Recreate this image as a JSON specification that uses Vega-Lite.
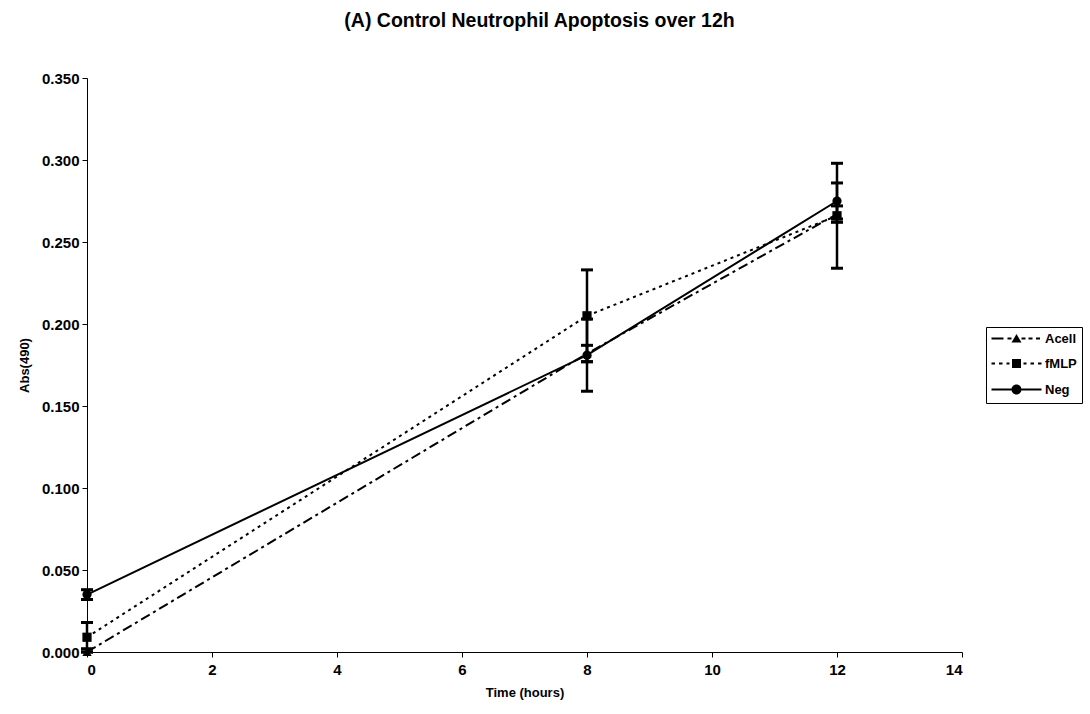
{
  "$schema": "https://vega.github.io/schema/vega-lite/v6.json",
  "width": 875,
  "height": 574,
  "autosize": {"type": "none"},
  "padding": {"left": 87, "top": 78, "right": 128, "bottom": 62},
  "background": "white",
  "title": {
    "text": "(A) Control Neutrophil Apoptosis over 12h",
    "font": "Liberation Sans",
    "fontSize": 19.5,
    "fontWeight": "bold",
    "color": "black",
    "anchor": "middle",
    "dx": 15,
    "offset": 40
  },
  "config": {
    "view": {"stroke": null},
    "font": "Liberation Sans",
    "axis": {
      "domainColor": "black",
      "tickColor": "black",
      "labelColor": "black",
      "titleColor": "black",
      "labelFont": "Liberation Sans",
      "titleFont": "Liberation Sans",
      "labelFontSize": 15,
      "labelFontWeight": "bold",
      "titleFontSize": 13,
      "titleFontWeight": "bold",
      "grid": false,
      "tickSize": 5,
      "domainWidth": 1,
      "tickWidth": 1
    },
    "legend": {
      "labelFont": "Liberation Sans",
      "labelFontSize": 13,
      "labelFontWeight": "bold",
      "labelColor": "black"
    }
  },
  "data": {
    "values": [
      {"series": "Acell", "time": 0, "value": 0.000, "lo": 0.000, "hi": 0.002},
      {"series": "Acell", "time": 8, "value": 0.182, "lo": 0.177, "hi": 0.187},
      {"series": "Acell", "time": 12, "value": 0.267, "lo": 0.262, "hi": 0.272},
      {"series": "fMLP", "time": 0, "value": 0.009, "lo": 0.000, "hi": 0.018},
      {"series": "fMLP", "time": 8, "value": 0.205, "lo": 0.177, "hi": 0.233},
      {"series": "fMLP", "time": 12, "value": 0.266, "lo": 0.234, "hi": 0.298},
      {"series": "Neg", "time": 0, "value": 0.035, "lo": 0.032, "hi": 0.038},
      {"series": "Neg", "time": 8, "value": 0.181, "lo": 0.159, "hi": 0.203},
      {"series": "Neg", "time": 12, "value": 0.275, "lo": 0.264, "hi": 0.286}
    ]
  },
  "encoding": {
    "x": {
      "field": "time",
      "type": "quantitative",
      "scale": {"domain": [0, 14], "nice": false, "zero": false},
      "axis": {"values": [0, 2, 4, 6, 8, 10, 12, 14], "title": "Time (hours)", "labelPadding": 5, "titlePadding": 9}
    }
  },
  "layer": [
    {
      "mark": {"type": "errorbar", "ticks": {"size": 12, "thickness": 3, "color": "black", "opacity": 1}, "rule": {"strokeWidth": 2.5, "color": "black", "opacity": 1}},
      "encoding": {
        "y": {
          "field": "lo",
          "type": "quantitative",
          "title": "Abs(490)",
          "scale": {"domain": [0, 0.35], "nice": false},
          "axis": {"values": [0, 0.05, 0.1, 0.15, 0.2, 0.25, 0.3, 0.35], "format": ".3f", "title": "Abs(490)", "labelPadding": 3, "titlePadding": 10}
        },
        "y2": {"field": "hi"}
      }
    },
    {
      "transform": [{"filter": "datum.series === 'Acell'"}],
      "mark": {"type": "line", "color": "black", "strokeWidth": 2, "strokeDash": [10, 4, 3, 4]},
      "encoding": {"y": {"field": "value", "type": "quantitative", "title": "Abs(490)"}}
    },
    {
      "transform": [{"filter": "datum.series === 'fMLP'"}],
      "mark": {"type": "line", "color": "black", "strokeWidth": 2, "strokeDash": [3, 4]},
      "encoding": {"y": {"field": "value", "type": "quantitative", "title": "Abs(490)"}}
    },
    {
      "transform": [{"filter": "datum.series === 'Neg'"}],
      "mark": {"type": "line", "color": "black", "strokeWidth": 2},
      "encoding": {"y": {"field": "value", "type": "quantitative", "title": "Abs(490)"}}
    },
    {
      "transform": [{"filter": "datum.series === 'Acell'"}],
      "mark": {"type": "point", "filled": true, "color": "black", "size": 85, "opacity": 1, "shape": "triangle-up"},
      "encoding": {"y": {"field": "value", "type": "quantitative", "title": "Abs(490)"}}
    },
    {
      "transform": [{"filter": "datum.series === 'fMLP'"}],
      "mark": {"type": "point", "filled": true, "color": "black", "size": 85, "opacity": 1, "shape": "square"},
      "encoding": {"y": {"field": "value", "type": "quantitative", "title": "Abs(490)"}}
    },
    {
      "transform": [{"filter": "datum.series === 'Neg'"}],
      "mark": {"type": "point", "filled": true, "color": "black", "size": 85, "opacity": 1, "shape": "circle"},
      "encoding": {"y": {"field": "value", "type": "quantitative", "title": "Abs(490)"}}
    },
    {
      "mark": {"type": "point", "filled": true, "color": "black", "opacity": 1, "size": 0},
      "encoding": {
        "y": {"field": "value", "type": "quantitative", "title": "Abs(490)"},
        "shape": {
          "field": "series",
          "type": "nominal",
          "scale": {
            "domain": ["Acell", "fMLP", "Neg"],
            "range": [
              "M-5,-0.2H-2.6V0.2H-5ZM-1.8,-0.2H-1V0.2H-1.8ZM1,-0.2H1.8V0.2H1ZM2.4,-0.2H3.2V0.2H2.4ZM3.9,-0.2H4.7V0.2H3.9ZM-1,0.8L0,-0.9L1,0.8Z",
              "M-5,-0.2H-4.3V0.2H-5ZM-3.5,-0.2H-2.8V0.2H-3.5ZM-2,-0.2H-1.4V0.2H-2ZM1.4,-0.2H2V0.2H1.4ZM2.8,-0.2H3.5V0.2H2.8ZM4.3,-0.2H5V0.2H4.3ZM-0.9,-0.9H0.9V0.9H-0.9Z",
              "M-5,-0.2H-1V0.2H-5ZM1,-0.2H5V0.2H1ZM1,0A1,1 0 1,1 -1,0A1,1 0 1,1 1,0Z"
            ]
          },
          "legend": {
            "title": null,
            "orient": "none",
            "legendX": 899,
            "legendY": 249,
            "strokeColor": "black",
            "fillColor": "white",
            "padding": 5,
            "symbolSize": 100,
            "symbolOffset": 19,
            "labelOffset": 22,
            "rowPadding": 10,
            "symbolFillColor": "black",
            "symbolOpacity": 1
          }
        }
      }
    }
  ]
}
